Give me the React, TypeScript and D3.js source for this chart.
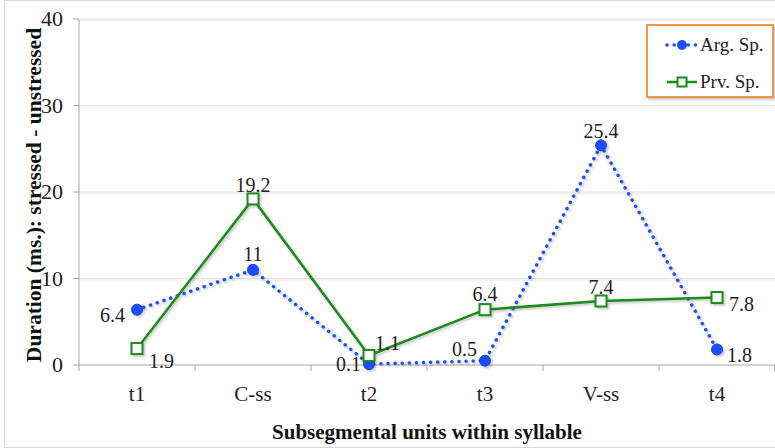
import React from "react";
import * as d3 from "d3";

const categories = ["t1", "C-ss", "t2", "t3", "V-ss", "t4"];
const argValues = [6.4, 11, 0.1, 0.5, 25.4, 1.8];
const prvValues = [1.9, 19.2, 1.1, 6.4, 7.4, 7.8];
const yTicks = [0, 10, 20, 30, 40];
const seriesNames = ["Arg. Sp.", "Prv. Sp."];
// label placement: [dx, dy, anchor]
const argLabelPos: [number, number, string][] = [
  [-12, 5, "end"], [0, -16, "middle"], [-8, 0, "end"], [-8, -12, "end"], [0, -14, "middle"], [10, 6, "start"],
];
const prvLabelPos: [number, number, string][] = [
  [12, 12, "start"], [0, -14, "middle"], [6, -12, "start"], [0, -16, "middle"], [0, -14, "middle"], [12, 6, "start"],
];

const W = 775, H = 448;
const left = 79, right = 775, top = 19, bottom = 365;
const BLUE = "#1f4dff";
const GREEN = "#1a8a1a";

function T(props: any) {
  const { children, style, ...rest } = props;
  return (
    <text fontFamily="Liberation Serif" style={{ fontFamily: "Liberation Serif", ...(style || {}) }} fill="#222" {...rest}>
      {children}
    </text>
  );
}

export default function App() {
  const x = d3.scaleBand().domain(categories).range([left, right]);
  const y = d3.scaleLinear().domain([0, 40]).range([bottom, top]);
  const cx = (c: string) => (x(c) as number) + x.bandwidth() / 2;
  const line = d3.line<number>().x((_, i) => cx(categories[i])).y((d) => y(d));

  return (
    <svg width={W} height={H} style={{ position: "absolute", left: 0, top: 0, background: "#fff" }}>
      <defs>
        <filter id="sh" x="-20%" y="-20%" width="140%" height="140%">
          <feDropShadow dx="1.5" dy="1.5" stdDeviation="1" floodColor="#000" floodOpacity="0.25" />
        </filter>
      </defs>
      <rect x={4.5} y={0.5} width={W} height={H - 1} fill="none" stroke="#d9d9d9" />
      {yTicks.filter((t) => t > 0).map((t) => (
        <g key={t}>
          <line x1={left} x2={right} y1={y(t)} y2={y(t)} stroke="#e2e2e2" strokeWidth={1} />
          <line x1={left} x2={right} y1={y(t) + 1.5} y2={y(t) + 1.5} stroke="#f0f0f0" strokeWidth={1.5} />
        </g>
      ))}
      {/* axes */}
      <line x1={left} x2={left} y1={top} y2={bottom} stroke="#a6a6a6" />
      <line x1={left} x2={right} y1={bottom} y2={bottom} stroke="#a6a6a6" />
      {yTicks.map((t) => (
        <g key={t}>
          <line x1={left - 6} x2={left} y1={y(t)} y2={y(t)} stroke="#a6a6a6" />
          <T x={63} y={y(t) + 7} textAnchor="end" fontSize={22}>{t}</T>
        </g>
      ))}
      {categories.map((c) => (
        <line key={c} x1={x(c) as number} x2={x(c) as number} y1={bottom} y2={bottom + 6} stroke="#a6a6a6" />
      ))}
      <line x1={right - 0.5} x2={right - 0.5} y1={bottom} y2={bottom + 6} stroke="#a6a6a6" />
      {categories.map((c) => (
        <T key={c} x={cx(c)} y={401} textAnchor="middle" fontSize={21}>{c}</T>
      ))}
      <T x={427} y={439} textAnchor="middle" fontSize={21} fontWeight="bold" fill="#111">Subsegmental units within syllable</T>
      <T transform={`translate(41,195) rotate(-90)`} textAnchor="middle" fontSize={21.5} fontWeight="bold" fill="#111">
        Duration (ms.): stressed - unstressed
      </T>

      {/* series */}
      <g filter="url(#sh)">
        <path d={line(argValues) || ""} fill="none" stroke={BLUE} strokeWidth={3.5} strokeDasharray="0.1 7" strokeLinecap="round" />
        <path d={line(prvValues) || ""} fill="none" stroke={GREEN} strokeWidth={2.5} />
        {argValues.map((v, i) => (
          <circle key={i} cx={cx(categories[i])} cy={y(v)} r={5.5} fill={BLUE} stroke="#1844e0" strokeWidth={1} />
        ))}
        {prvValues.map((v, i) => (
          <rect key={i} x={cx(categories[i]) - 5.5} y={y(v) - 5.5} width={11} height={11} fill="#fff" stroke={GREEN} strokeWidth={2} />
        ))}
      </g>
      {argValues.map((v, i) => (
        <T key={i} x={cx(categories[i]) + argLabelPos[i][0]} y={y(v) + argLabelPos[i][1] + 7} textAnchor={argLabelPos[i][2]} fontSize={20}>{v}</T>
      ))}
      {prvValues.map((v, i) => (
        <T key={i} x={cx(categories[i]) + prvLabelPos[i][0]} y={y(v) + prvLabelPos[i][1] + 7} textAnchor={prvLabelPos[i][2]} fontSize={20}>{v}</T>
      ))}

      {/* legend */}
      <rect x={647} y={25} width={126} height={72} fill="#fff" stroke="#f79646" strokeWidth={2} filter="url(#sh)" />
      <g>
        <line x1={667} x2={697} y1={45} y2={45} stroke={BLUE} strokeWidth={3.5} strokeDasharray="0.1 7" strokeLinecap="round" />
        <circle cx={682} cy={45} r={5} fill={BLUE} />
        <T x={700} y={51} fontSize={19}>{seriesNames[0]}</T>
        <line x1={667} x2={697} y1={82} y2={82} stroke={GREEN} strokeWidth={2.5} />
        <rect x={677.5} y={77.5} width={9} height={9} fill="#fff" stroke={GREEN} strokeWidth={2} />
        <T x={700} y={88} fontSize={19}>{seriesNames[1]}</T>
      </g>
    </svg>
  );
}
